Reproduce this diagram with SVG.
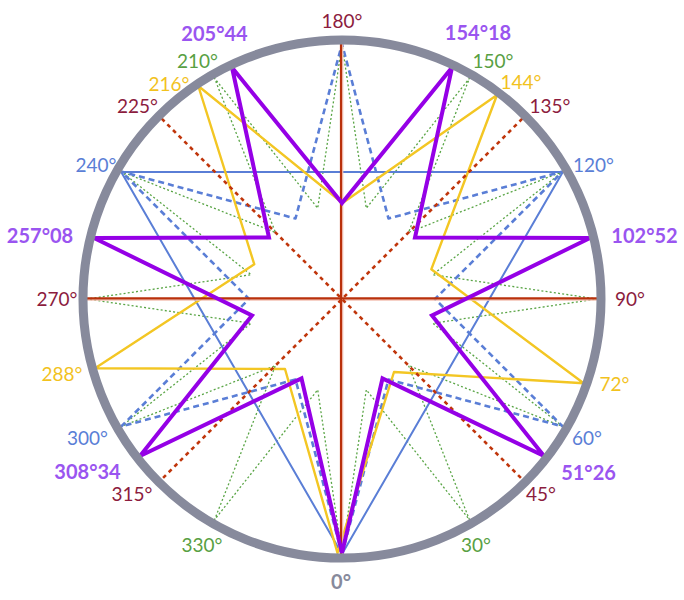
<svg xmlns="http://www.w3.org/2000/svg" width="684" height="600" viewBox="0 0 684 600">
<style>
text{font-family:Lato,"Open Sans","DejaVu Sans",sans-serif;font-size:19px;text-anchor:middle}
.b{font-weight:bold;font-size:20px}
.mar{fill:#8c1c3e}.blu{fill:#5a7ed6}.grn{fill:#58a043}.yel{fill:#f2c21e}.pur{fill:#9a55f0}.gry{fill:#878a9c}
.red{stroke:#b9300b;stroke-width:2.2;fill:none}
.pink{stroke:#f3c2b5;stroke-width:1.3;fill:none}
.reddot{stroke:#c0360c;stroke-width:2.6;stroke-dasharray:4 4;fill:none}
.grnd{stroke:#5aa546;stroke-width:1.3;stroke-dasharray:2 2.2;fill:none;stroke-linejoin:round}
.blus{stroke:#5a7ed6;stroke-width:2;fill:none;stroke-linejoin:round}
.blud{stroke:#5a7ed6;stroke-width:2.6;stroke-dasharray:6 4;fill:none;stroke-linejoin:round}
.yels{stroke:#f3c623;stroke-width:2.4;fill:none;stroke-linejoin:round}
.purs{stroke:#9500e6;stroke-width:4;fill:none;stroke-linejoin:miter}
</style>
<rect width="684" height="600" fill="#ffffff"/>
<g id="green-star12">
<path class="grnd" d="M342,554 L366.3,389.8 L469.5,519.8 L408.5,365.5 L562.8,426.5 L432.8,323.3 L597,299 L432.8,274.7 L562.8,171.5 L408.5,232.5 L469.5,78.2 L366.3,208.2 L342,44 L317.7,208.2 L214.5,78.2 L275.5,232.5 L121.2,171.5 L251.2,274.7 L87,299 L251.2,323.3 L121.2,426.5 L275.5,365.5 L214.5,519.8 L317.7,389.8 Z"/>
</g>
<g id="blue-triangle">
<path class="blus" d="M121.2,172 L562.8,172 L342,554 Z"/>
</g>
<g id="blue-star6">
<path class="blud" d="M342,554 L388.5,379.5 L562.8,426.5 L435,299 L562.8,171.5 L388.5,218.5 L342,44 L295.5,218.5 L121.2,171.5 L249,299 L121.2,426.5 L295.5,379.5 Z"/>
</g>
<g id="yellow-pentagram">
<path class="yels" d="M337.5,553 L394,372 L583.7,383.3 L431.3,269.3 L497,95 L342.5,203 L198.3,86 L254.3,264.3 L95,368.3 L285,369 Z"/>
</g>
<g id="red-cross">
<line class="pink" x1="342.7" y1="44" x2="342.7" y2="554"/>
<line class="pink" x1="86" y1="300" x2="598" y2="300"/>
<line class="red" x1="341" y1="44" x2="341" y2="554"/>
<line class="red" x1="86" y1="298.3" x2="598" y2="298.3"/>
<line class="reddot" x1="161.7" y1="118.7" x2="522.3" y2="479.3"/>
<line class="reddot" x1="522.3" y1="118.7" x2="161.7" y2="479.3"/>
</g>
<g id="purple-heptagram">
<path class="purs" d="M342,553 L382.5,378.5 L544,456 L432,315.5 L590,238 L415,237.5 L452,67.5 L342,203 L232,67.5 L269,237.5 L94,238 L252,315.5 L140,456 L301.5,378.5 Z"/>
</g>
<g id="ring">
<circle cx="342" cy="299" r="259" fill="none" stroke="#878a9c" stroke-width="9"/>
</g>
<g id="labels">
<text class="mar" x="342" y="28">180°</text>
<text class="mar" x="550" y="113">135°</text>
<text class="mar" x="630" y="306">90°</text>
<text class="mar" x="541" y="501">45°</text>
<text class="mar" x="132" y="501">315°</text>
<text class="mar" x="57" y="306">270°</text>
<text class="mar" x="137.5" y="113">225°</text>
<text class="blu" x="593.5" y="172">120°</text>
<text class="blu" x="587" y="445">60°</text>
<text class="blu" x="87.5" y="445">300°</text>
<text class="blu" x="96" y="172">240°</text>
<text class="grn" x="493" y="68">150°</text>
<text class="grn" x="476" y="552">30°</text>
<text class="grn" x="202" y="552">330°</text>
<text class="grn" x="197.5" y="68">210°</text>
<text class="yel" x="521" y="89">144°</text>
<text class="yel" x="614.5" y="391">72°</text>
<text class="yel" x="62" y="381">288°</text>
<text class="yel" x="169" y="90.5">216°</text>
<text class="pur b" x="478" y="40">154°18</text>
<text class="pur b" x="644.5" y="243">102°52</text>
<text class="pur b" x="588.5" y="480">51°26</text>
<text class="pur b" x="87.5" y="479">308°34</text>
<text class="pur b" x="40" y="243">257°08</text>
<text class="pur b" x="214.5" y="40.5">205°44</text>
<text class="gry b" x="341" y="589">0°</text>
</g>
</svg>
